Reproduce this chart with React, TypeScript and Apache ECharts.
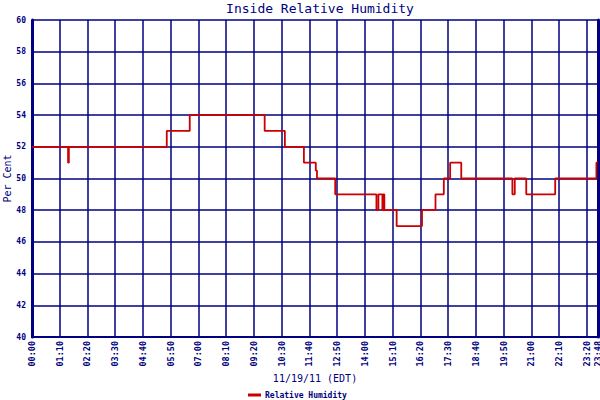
import React, { useEffect, useRef } from "react";
import * as echarts from "echarts";

// minutes since midnight, value (% RH) — value holds until next point
const minutes = [0, 91, 93, 340, 398, 587, 638, 686, 716, 719, 765, 869, 874, 884, 886, 889, 920, 984, 1018, 1039, 1055, 1083, 1212, 1218, 1247, 1320, 1424, 1428];
const humidity = [52, 51, 52, 53, 54, 53, 52, 51, 50.5, 50, 49, 48, 49, 48, 49, 48, 47, 48, 49, 50, 51, 50, 49, 50, 49, 50, 51, 51];

const yTicks = { min: 40, max: 60, step: 2 };
const xTicks = { min: 0, max: 1428, step: 70 };

const NAVY = "#000080";
const RED = "#cc0000";
const FONT = "DejaVu Sans Mono";

function fmt(v: number): string {
  const h = Math.floor(v / 60);
  const m = Math.round(v % 60);
  return String(h).padStart(2, "0") + ":" + String(m).padStart(2, "0");
}

export default function App() {
  const ref = useRef<HTMLDivElement>(null);
  useEffect(() => {
    document.body.style.margin = "0";
    const chart = echarts.init(ref.current!, null, { renderer: "svg" });
    const data = minutes.map((m, i) => [m, humidity[i]]);
    chart.setOption({
      animation: false,
      backgroundColor: "#ffffff",
      title: {
        text: "Inside Relative Humidity",
        left: 315,
        textAlign: "center",
        top: -3,
        textStyle: { fontFamily: FONT, fontSize: 13, fontWeight: "normal", color: NAVY },
      },
      legend: {
        data: ["Relative Humidity"],
        left: 248,
        top: 391,
        itemWidth: 13,
        itemHeight: 3,
        itemGap: 4,
        icon: "rect",
        textStyle: { fontFamily: FONT, fontSize: 8, fontWeight: "bold", color: NAVY, padding: [0, 0, 0, -1] },
        padding: 0,
      },
      grid: { left: 32, right: 2, top: 20, bottom: 63, containLabel: false, outerBoundsMode: "none" },
      xAxis: {
        type: "value",
        min: xTicks.min,
        max: xTicks.max,
        interval: xTicks.step,
        name: "11/19/11 (EDT)",
        nameLocation: "middle",
        nameGap: 36,
        nameMoveOverlap: false,
        nameTextStyle: { fontFamily: FONT, fontSize: 10, color: NAVY },
        axisLine: { show: true, lineStyle: { color: NAVY, width: 2 } },
        axisTick: { show: false },
        splitLine: { show: true, lineStyle: { color: NAVY, width: 1.5 } },
        axisLabel: {
          rotate: 90,
          margin: 4,
          fontFamily: FONT,
          fontSize: 8.5,
          fontWeight: "bold",
          color: NAVY,
          showMaxLabel: true,
          showMinLabel: true,
          hideOverlap: false,
          formatter: (v: number) => fmt(v),
        },
      },
      yAxis: [
        {
          type: "value",
          min: yTicks.min,
          max: yTicks.max,
          interval: yTicks.step,
          name: "Per Cent",
          nameLocation: "middle",
          nameGap: 20,
          nameMoveOverlap: false,
          nameTextStyle: { fontFamily: FONT, fontSize: 10, color: NAVY },
          axisLine: { show: true, lineStyle: { color: NAVY, width: 3 } },
          axisTick: { show: false },
          splitLine: { show: true, lineStyle: { color: NAVY, width: 1.5 } },
          axisLabel: { margin: 6, fontFamily: FONT, fontSize: 8, fontWeight: "bold", color: NAVY },
        },
        {
          type: "value",
          position: "right",
          min: yTicks.min,
          max: yTicks.max,
          interval: yTicks.step,
          axisLine: { show: true, lineStyle: { color: NAVY, width: 3 } },
          axisTick: { show: false },
          axisLabel: { show: false },
          splitLine: { show: false },
        },
      ],
      series: [
        {
          name: "Relative Humidity",
          type: "line",
          step: "end",
          data,
          showSymbol: false,
          symbol: "none",
          lineStyle: { color: RED, width: 1.8 },
          itemStyle: { color: RED },
        },
      ],
    });
    return () => chart.dispose();
  }, []);
  return <div ref={ref} style={{ width: 600, height: 400 }} />;
}
